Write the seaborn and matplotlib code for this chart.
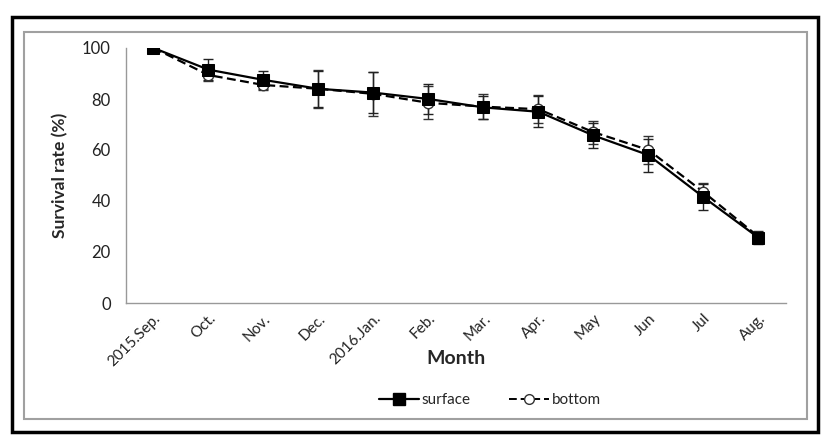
import matplotlib
matplotlib.use("Agg")
import matplotlib.pyplot as plt
import matplotlib.patches as mpatches
from matplotlib.lines import Line2D
import seaborn as sns
import pandas as pd
import numpy as np

months = ["2015.Sep.", "Oct.", "Nov.", "Dec.", "2016.Jan.", "Feb.", "Mar.",
          "Apr.", "May", "Jun", "Jul", "Aug."]
surface = [100, 91.5, 87.5, 84.0, 82.5, 80.0, 76.7, 75.0, 65.7, 58.0, 41.5, 25.6]
surface_err = [0, 4.0, 3.5, 7.0, 8.0, 6.0, 4.5, 6.0, 5.0, 6.5, 5.0, 2.5]
bottom = [100, 89.4, 85.5, 84.0, 82.0, 78.5, 77.0, 76.0, 67.0, 60.0, 43.5, 26.0]
bottom_err = [0, 2.5, 2.0, 7.5, 8.5, 6.5, 5.0, 5.5, 4.5, 5.5, 3.5, 2.0]

sns.set_theme(style="white")
plt.rcParams['font.family'] = ['Lato', 'DejaVu Sans']

W, H = 828, 446
fig = plt.figure(figsize=(W / 100, H / 100), dpi=100)
fig.patch.set_facecolor("white")

# frames
fig.patches.append(mpatches.Rectangle((12 / W, 1 - 432 / H), (818 - 12) / W, (432 - 17) / H,
                                      transform=fig.transFigure, fill=False,
                                      edgecolor="black", linewidth=2.5, zorder=0))
fig.patches.append(mpatches.Rectangle((24 / W, 1 - 419 / H), (807 - 24) / W, (419 - 32) / H,
                                      transform=fig.transFigure, fill=False,
                                      edgecolor="#a0a0a0", linewidth=1.5, zorder=0))

ax = fig.add_axes([126 / W, 1 - 303 / H, (786 - 126) / W, (303 - 48) / H])
ax.set_facecolor("none")

x = np.arange(len(months))
df_s = pd.DataFrame({"x": x, "y": surface})
df_b = pd.DataFrame({"x": x, "y": bottom})

ax.errorbar(x, bottom, yerr=bottom_err, fmt="none", ecolor="#333333",
            elinewidth=1, capsize=3.5, capthick=1, zorder=2)
ax.errorbar(x, surface, yerr=surface_err, fmt="none", ecolor="#222222",
            elinewidth=1, capsize=3.5, capthick=1, zorder=3)

sns.lineplot(data=df_b, x="x", y="y", ax=ax, color="black", linewidth=1.6,
             linestyle=(0, (4, 2)), marker="o", markersize=7.5,
             markerfacecolor="white", markeredgecolor="#333333",
             markeredgewidth=1, zorder=4, sort=False)
sns.lineplot(data=df_s, x="x", y="y", ax=ax, color="black", linewidth=1.6,
             marker="s", markersize=9, markerfacecolor="black",
             markeredgecolor="black", zorder=5, sort=False)

ax.set_xlim(-0.5, len(months) - 0.5)
ax.set_ylim(0, 100)
ax.set_yticks([0, 20, 40, 60, 80, 100])
ax.set_yticklabels(["0", "20", "40", "60", "80", "100"], fontsize=12, color="#222222")
ax.set_xticks(x)
ax.set_xticklabels(months, rotation=45, ha="right", va="top",
                   rotation_mode="anchor", fontsize=11, color="#222222")
ax.set_xticks(np.arange(-0.5, len(months)), minor=True)
ax.tick_params(axis="x", which="major", length=0, pad=6)
ax.tick_params(axis="x", which="minor", length=5, width=1, color="#999999", direction="out")
ax.tick_params(axis="y", which="major", length=5, width=1, color="#999999",
               direction="out", pad=6)

for s in ["top", "right"]:
    ax.spines[s].set_visible(False)
for s in ["left", "bottom"]:
    ax.spines[s].set_color("#999999")
    ax.spines[s].set_linewidth(1)

ax.set_xlabel("Month", fontsize=14, fontweight="bold", va="center")
ax.xaxis.set_label_coords(0.5, (303 - 358) / 255)
ax.set_ylabel("Survival rate (%)", fontsize=12.5, fontweight="bold", va="center")
ax.yaxis.set_label_coords((60 - 126) / 660, 0.5)

handles = [
    Line2D([], [], color="black", linewidth=1.6, marker="s", markersize=8,
           markerfacecolor="black"),
    Line2D([], [], color="black", linewidth=1.4, linestyle=(0, (4, 2)), marker="o",
           markersize=7, markerfacecolor="white", markeredgecolor="#333333"),
]
fig.legend(handles, ["surface", "bottom"], loc="center", bbox_to_anchor=(490 / W, 1 - 400 / H),
           ncol=2, frameon=False, fontsize=11, handlelength=2.6, columnspacing=2.5,
           handletextpad=0.2)

fig.savefig("out.png", dpi=100, facecolor="white")
